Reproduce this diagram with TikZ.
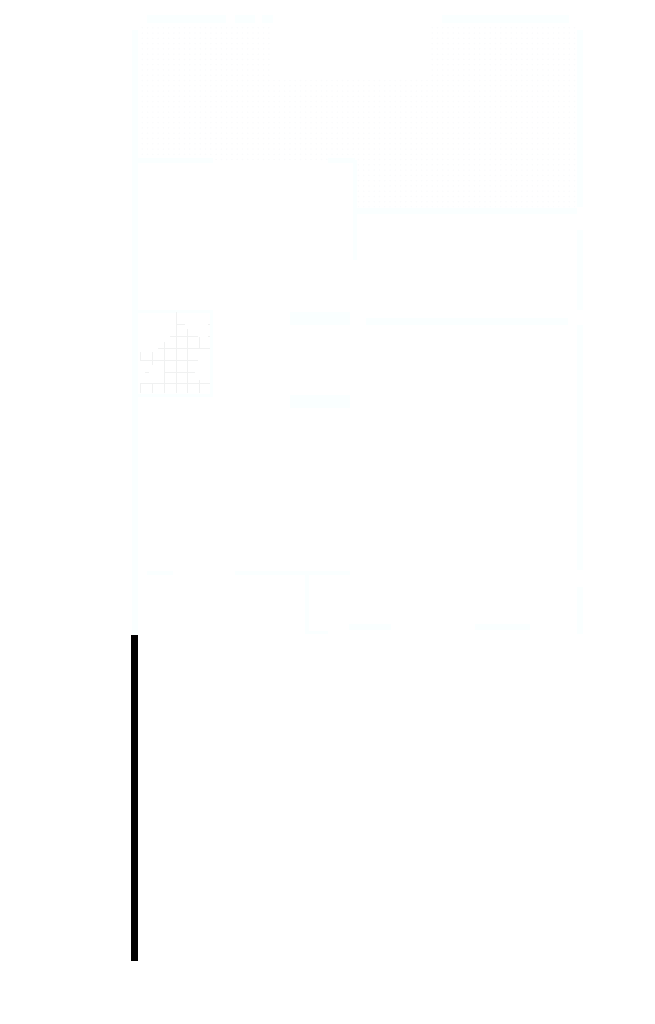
\documentclass[tikz,border=0pt]{standalone}
\usepackage{amsmath}
\usetikzlibrary{patterns}
\definecolor{wallcolor}{HTML}{FAFFFF}
\definecolor{gridcolor}{HTML}{F0F1F1}
\definecolor{dotcolor}{HTML}{FAFBFC}
\tikzset{
  wall/.style={fill=wallcolor, draw=none},
  gridline/.style={draw=gridcolor, line width=0.012cm},
  roomdots/.style={pattern=dots, pattern color=dotcolor, draw=none}
}
\begin{document}
\begin{tikzpicture}[x=0.02cm, y=-0.02cm]
\useasboundingbox (0,0) rectangle (655,1024);

% Stippled floor
\fill[roomdots] (138,25) -- (270,25) -- (270,80) -- (430,80) -- (430,25) -- (577,25) -- (577,207) -- (357,207) -- (357,160) -- (138,160) -- cycle;

% Wall pieces
\foreach \xa/\ya/\xb/\yb in {
  147/15/226/23, 235/15/255/23, 262/15/273/23, 442/15/569/23,
  132/30/138/635, 577/30/583/207, 577/230/583/310, 577/325/583/570, 577/587/583/634,
  137/158/213/163, 328/158/355/163, 353/160/357/260, 355/208/577/214,
  137/310/213/313, 137/394/213/397, 210/310/213/397,
  290/312/350/325, 290/395/350/408, 366/318/568/325,
  147/571/173/575, 235/571/350/575, 305/573/309/633, 305/631/328/634,
  349/624/391/630, 475/624/530/630}
{
    \fill[wall] (\xa,\ya) rectangle (\xb,\yb);
}

% Grid lines, vertical
\foreach \x/\ya/\yb in {176/312/393, 187/329/393, 199/337/348, 199/380/393, 164/342/393,
  152/352/365, 152/383/393, 140/352/360, 140/383/393}
{
    \draw[gridline] (\x,\ya) -- (\x,\yb);
}

% Grid lines, horizontal
\foreach \y/\xa/\xb in {324/176/185, 324/208/210, 336/170/198, 336/208/210, 348/158/210,
  360/140/198, 372/145/149, 372/164/195, 383/140/210}
{
    \draw[gridline] (\xa,\y) -- (\xb,\y);
}

% Black bar
\fill[black] (131,635) rectangle (138,961);

\end{tikzpicture}
\end{document}
